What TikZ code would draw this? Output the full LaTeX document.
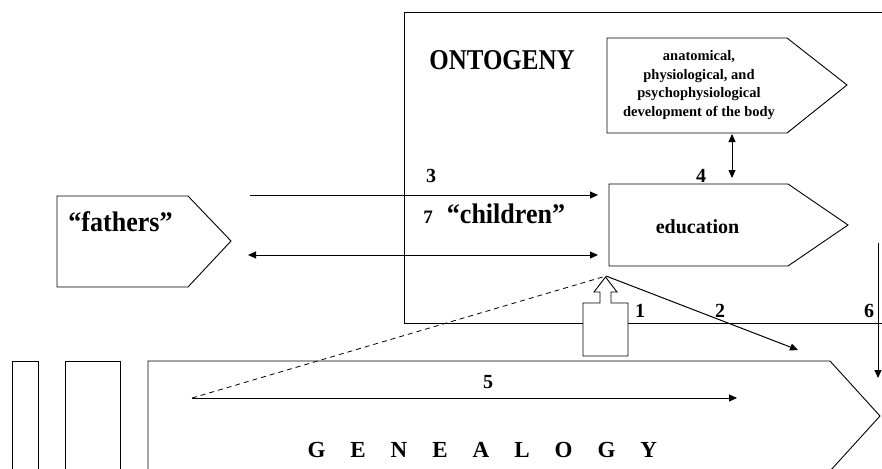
\documentclass[tikz,border=0pt]{standalone}
\usepackage{fontspec}
\setmainfont{Liberation Serif}
\newfontfamily\condA{Liberation Serif}[FakeStretch=0.87]
\newfontfamily\condB{Liberation Serif}[FakeStretch=0.92]
\usetikzlibrary{arrows.meta}
\begin{document}
\begin{tikzpicture}[x=1pt,y=-1pt, line width=1pt,
  txt/.style={font=\bfseries\fontsize{#1}{#1}\selectfont, inner sep=0pt, anchor=base},
  txt/.default=20,
  arr/.style={-{Triangle[length=8pt,width=7pt]}},
  darr/.style={{Triangle[length=8pt,width=7pt]}-{Triangle[length=8pt,width=7pt]}},
  shapeline/.style={draw=black, line width=0.9pt, line join=miter},
]
\useasboundingbox (0,0) rectangle (882,468);
\clip (0,0) rectangle (882,468);

% ONTOGENY frame
\draw[shapeline] (895,12) -- (404,12) -- (404,323) -- (895,323);

% pentagons
\draw[shapeline] (607,38) -- (787,38) -- (847,85) -- (787,133) -- (607,133) -- cycle;
\draw[shapeline] (609,184) -- (788,184) -- (848,225) -- (788,266) -- (609,266) -- cycle;
\draw[shapeline] (57,196) -- (188,196) -- (231,241) -- (188,287) -- (57,287) -- cycle;
\draw[shapeline] (148,480) -- (148,361) -- (830,361) -- (880,416) -- (830,471);
\draw[shapeline] (12,480) -- (12,361) -- (38,361) -- (38,480);
\draw[shapeline] (65,480) -- (65,361) -- (120,361) -- (120,480);

% texts
\node[txt=28.7, font=\condA\bfseries\fontsize{28.7}{28.7}\selectfont] (onto) at (502,69.5) {ONTOGENY};
\node[font=\bfseries\fontsize{14.5}{18.6}\selectfont, inner sep=0pt, align=center] (body) at (699,85)
  {anatomical,\\physiological, and\\psychophysiological\\development of the body};
\node[txt=20] (edu) at (697.5,233) {education};
\node[txt, font=\condB\bfseries\fontsize{28.3}{28.3}\selectfont] (fath) at (120.5,231) {“fathers”};
\node[txt, font=\condB\bfseries\fontsize{28.3}{28.3}\selectfont] (chil) at (506,223) {“children”};
\node[txt=19] (n7) at (428,223) {7};
\node[txt] (n3) at (431,182) {3};
\node[txt] (n4) at (701,182) {4};
\node[txt] (n1) at (640,317) {1};
\node[txt] (n2) at (720,317) {2};
\node[txt] (n6) at (869,317) {6};
\node[txt] (n5) at (488,388) {5};
\node[font=\bfseries\fontsize{23}{23}\selectfont, inner sep=0pt, anchor=base west] (gen) at (307,457) {\spaceskip=25pt\relax G E N E A L O G Y};

% connector end points
\coordinate (f3) at (250,195);
\coordinate (e3) at (598,195);
\coordinate (f7) at (248,255);
\coordinate (e7) at (598,255);
\coordinate (bodyB) at (732,134);
\coordinate (eduT) at (732,178);
\coordinate (src) at (606,276);
\coordinate (g5) at (192,398);
\coordinate (g5e) at (737,398);
\coordinate (e2) at (798,350);
\coordinate (s6) at (878,243);
\coordinate (e6) at (878,378);

\draw[arr] (f3) -- (e3);
\draw[darr] (f7) -- (e7);
\draw[darr] (bodyB) -- (eduT);
\draw[dashed, dash pattern=on 5pt off 4pt, line width=0.8pt] (g5) -- (src);
\draw[arr] (src) -- (e2);
\draw[arr] (g5) -- (g5e);
\draw[arr] (s6) -- (e6);

% hollow block arrow
\draw[shapeline, fill=white] (605.5,277) -- (617,292) -- (611,292) -- (611,303) -- (628,303) -- (628,356) -- (583,356) -- (583,303) -- (600,303) -- (600,292) -- (594,292) -- cycle;
\end{tikzpicture}
\end{document}
